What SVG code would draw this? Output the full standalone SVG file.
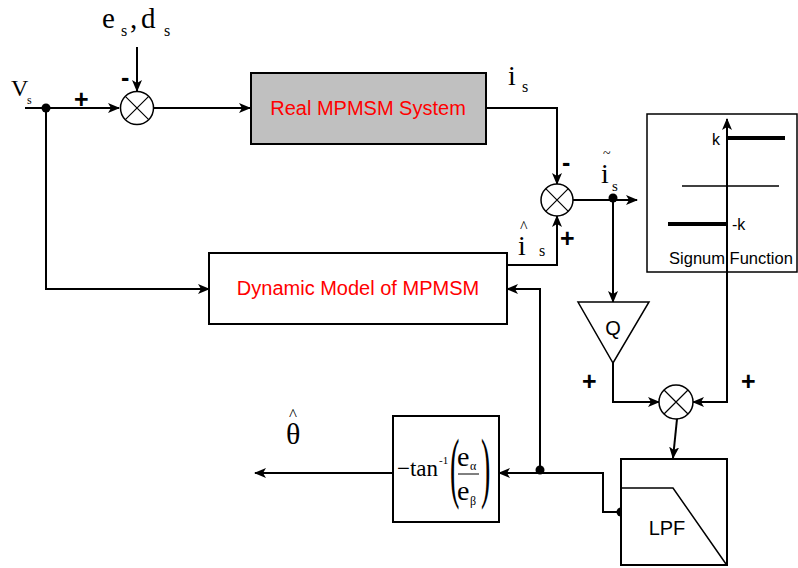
<svg xmlns="http://www.w3.org/2000/svg" width="798" height="568" viewBox="0 0 798 568">
<defs>
<marker id="arr" viewBox="0 0 12 10" refX="11" refY="5" markerWidth="12" markerHeight="10" markerUnits="userSpaceOnUse" orient="auto">
<path d="M0,0 L12,5 L0,10 L3,5 Z" fill="#000"/>
</marker>
<style>
.c{fill:none;stroke:#000;stroke-width:2}
.box{fill:#fff;stroke:#000;stroke-width:2}
.sum{fill:#fff;stroke:#000;stroke-width:1.5}
.x{stroke:#000;stroke-width:1.2}
.red{font-family:"Liberation Sans",Arial,sans-serif;font-size:20px;fill:#ff0000;text-anchor:middle}
.sans{font-family:"Liberation Sans",Arial,sans-serif;fill:#000}
.ser{font-family:"Liberation Serif","Times New Roman",serif;fill:#000}
.sign{font-family:"Liberation Sans",Arial,sans-serif;font-weight:bold;font-size:25px;fill:#000}
</style>
</defs>
<rect width="798" height="568" fill="#fff"/>

<g id="connectors">
<path class="c" d="M25,108 H119" marker-end="url(#arr)"/>
<path class="c" d="M137,47 V91" marker-end="url(#arr)"/>
<path class="c" d="M154,108 H250" marker-end="url(#arr)"/>
<path class="c" d="M486,108 H557 V184" marker-end="url(#arr)"/>
<path class="c" d="M507,265 H557 V216" marker-end="url(#arr)"/>
<path class="c" d="M573,200 H637" marker-end="url(#arr)"/>
<path class="c" d="M613,200 V302" marker-end="url(#arr)"/>
<path class="c" d="M46,108 V289 H209" marker-end="url(#arr)"/>
<path class="c" d="M613,363 V402 H659" marker-end="url(#arr)"/>
<path class="c" d="M727,272 V402 H693" marker-end="url(#arr)"/>
<path class="c" d="M677,419 L673,458" marker-end="url(#arr)"/>
<path class="c" d="M621,512 H603 V473 H499" marker-end="url(#arr)"/>
<path class="c" d="M540,473 V289 H507" marker-end="url(#arr)"/>
<path class="c" d="M393,473 H255" marker-end="url(#arr)"/>
<circle cx="46" cy="108" r="4.5" fill="#000"/>
<circle cx="613" cy="198" r="4.5" fill="#000"/>
<circle cx="540" cy="470" r="4.5" fill="#000"/>
<circle cx="621" cy="512" r="4.5" fill="#000"/>
</g>

<g id="labels">
<text class="ser" x="11" y="96" font-size="24">V</text>
<text class="ser" x="27" y="104" font-size="12">s</text>
<text class="sign" x="74" y="108">+</text>
<text class="sign" x="121" y="86">-</text>
<text class="ser" x="102" y="28" font-size="29">e</text>
<text class="ser" x="121" y="36" font-size="16">s</text>
<text class="ser" x="130" y="28" font-size="29">,</text>
<text class="ser" x="141" y="28" font-size="29">d</text>
<text class="ser" x="164" y="36" font-size="16">s</text>
<text class="ser" x="508" y="85" font-size="28">i</text>
<text class="ser" x="522" y="92" font-size="16">s</text>
<text class="sign" x="562" y="171">-</text>
<text class="ser" x="601" y="183" font-size="28">i</text>
<text class="ser" x="603" y="158" font-size="14">~</text>
<text class="ser" x="612" y="191" font-size="15">s</text>
<text class="ser" x="518" y="255" font-size="28">i</text>
<text class="ser" x="520" y="232" font-size="16">^</text>
<text class="ser" x="539" y="256" font-size="16">s</text>
<text class="sign" x="560" y="247">+</text>
<text class="sign" x="582" y="390">+</text>
<text class="sign" x="741" y="390">+</text>
<text class="ser" x="286" y="444" font-size="30">θ</text>
<text class="ser" x="289" y="420" font-size="17">^</text>
</g>

<g id="sum1">
<circle class="sum" cx="137" cy="108" r="16.5"/>
<path class="x" d="M125.3,96.3 L148.7,119.7 M148.7,96.3 L125.3,119.7"/>
</g>

<g id="real-system">
<rect x="251" y="73" width="235" height="71" fill="#c0c0c0" stroke="#000" stroke-width="2"/>
<text class="red" x="368" y="115">Real MPMSM System</text>
</g>

<g id="sum2">
<circle class="sum" cx="557" cy="200" r="16"/>
<path class="x" d="M545.7,188.7 L568.3,211.3 M568.3,188.7 L545.7,211.3"/>
</g>

<g id="dynamic-model">
<rect class="box" x="209" y="253" width="298" height="71" stroke-width="1.5"/>
<text class="red" x="358" y="295">Dynamic Model of MPMSM</text>
</g>

<g id="signum">
<rect x="647" y="114" width="150" height="158" fill="#fff" stroke="#000" stroke-width="1.5"/>
<line x1="727" y1="272" x2="727" y2="119" stroke="#000" stroke-width="2" marker-end="url(#arr)"/>
<line x1="682" y1="186" x2="779" y2="186" stroke="#000" stroke-width="1.5"/>
<line x1="727" y1="138" x2="785" y2="138" stroke="#000" stroke-width="4"/>
<line x1="668" y1="224" x2="727" y2="224" stroke="#000" stroke-width="4"/>
<text class="sans" x="712" y="145" font-size="16">k</text>
<text class="sans" x="732" y="230" font-size="16">-k</text>
<text class="sans" x="731" y="264" font-size="16.5" text-anchor="middle">Signum Function</text>
</g>

<g id="gain-q">
<path d="M578,302 L649,302 L613,363 Z" fill="#fff" stroke="#000" stroke-width="1.5"/>
<text class="sans" x="613" y="335" font-size="20" text-anchor="middle">Q</text>
</g>

<g id="sum3">
<circle class="sum" cx="676" cy="402" r="17"/>
<path class="x" d="M664,390 L688,414 M688,390 L664,414"/>
</g>

<g id="lpf">
<rect class="box" x="621" y="459" width="106" height="106"/>
<path d="M621,488 H673 L726,564" fill="none" stroke="#000" stroke-width="1.5"/>
<text class="sans" x="667" y="535" font-size="20" text-anchor="middle">LPF</text>
</g>

<g id="arctan">
<rect class="box" x="393" y="416" width="106" height="106"/>
<text class="ser" x="397" y="476" font-size="23">−tan</text>
<text class="ser" x="439" y="464" font-size="11">-1</text>
<text class="ser" x="450" y="493" font-size="78" fill="#333" transform="translate(450 0) scale(0.36 1) translate(-450 0)">(</text>
<text class="ser" x="481" y="493" font-size="78" fill="#333" transform="translate(481 0) scale(0.36 1) translate(-481 0)">)</text>
<text class="ser" x="457" y="466" font-size="28">e</text>
<text class="ser" x="470" y="470" font-size="12">α</text>
<line x1="458" y1="474" x2="479" y2="474" stroke="#000" stroke-width="1"/>
<text class="ser" x="457" y="500" font-size="28">e</text>
<text class="ser" x="470" y="505" font-size="12">β</text>
</g>
</svg>
